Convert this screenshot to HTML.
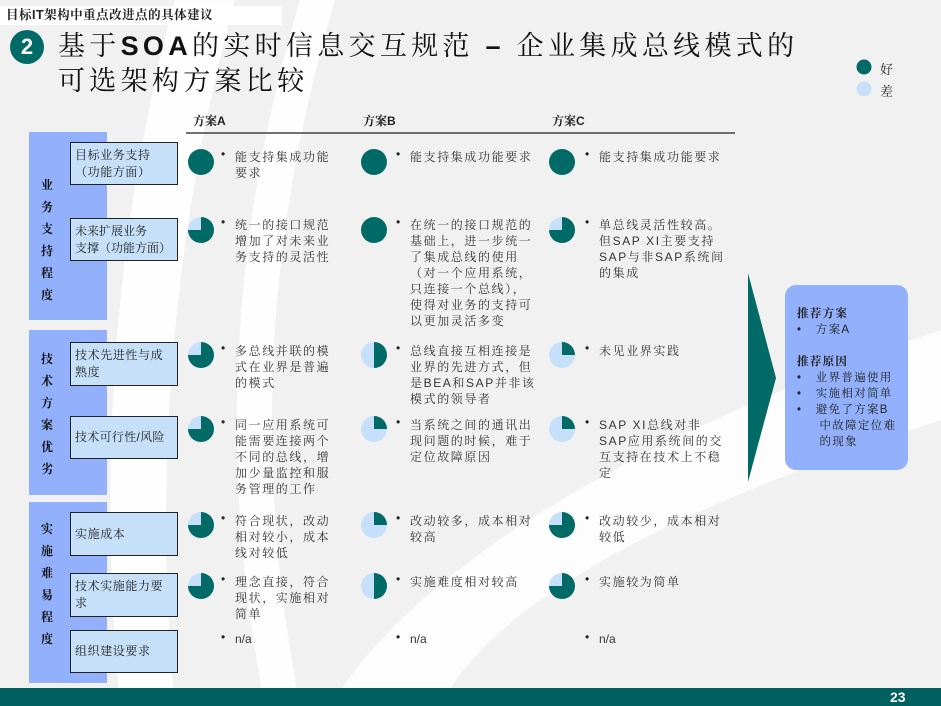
<!DOCTYPE html>
<html><head><meta charset="utf-8">
<style>
*{margin:0;padding:0;box-sizing:border-box}
body{width:941px;height:706px;position:relative;overflow:hidden;background:#f1f1f1;font-family:"Liberation Sans","Noto Serif CJK SC",serif;color:#222}
.a{position:absolute}
.t{font-size:12px;line-height:16px;letter-spacing:1.6px;color:#333;white-space:nowrap}
.bul{position:absolute;font-size:12px;line-height:16px}
.lab{position:absolute;left:70px;width:108px;background:#c6e0fa;border:1.5px solid #222;font-size:12px;line-height:17px;letter-spacing:0.6px;padding-left:4px;display:flex;align-items:center;color:#222;white-space:nowrap}
.cat{position:absolute;left:29px;width:78px;background:#93b0fc}
.ct{position:absolute;left:34px;width:26px;text-align:center;font-size:12px;font-weight:bold;line-height:22px;color:#111}
.hd{font-size:12px;font-weight:bold}
</style></head><body>
<svg class="a" style="left:0;top:0" width="941" height="706">
<path d="M175,0 L235,0 C180,200 150,450 175,706 L120,706 C95,450 120,200 175,0Z" fill="#fff" opacity="0.9"/>
<path d="M300,0 L335,0 C270,220 250,450 300,706 L265,706 C215,450 235,220 300,0Z" fill="#fff" opacity="0.9"/>
<path d="M330,706 C420,560 650,430 941,330 L941,420 C700,500 500,590 440,706Z" fill="#fff" opacity="0.85"/>
<g fill="#006a66">
<circle cx="27" cy="47" r="17"/>
<circle cx="864" cy="67" r="7.5"/>
</g>
<circle cx="864" cy="89" r="7.5" fill="#c6e0fa"/>
<line x1="186" y1="133" x2="735" y2="133" stroke="#444" stroke-width="1.5"/>
<polygon points="748,273 776,378 748,482" fill="#006a66"/>
<rect x="785" y="285" width="123" height="185" rx="11" fill="#93b0fc"/>
<rect x="0" y="688" width="941" height="18" fill="#006060"/>
</svg>
<div class="a" style="left:0;top:6px;width:282px;height:19px;background:#fff;font-size:12.5px;font-weight:bold;line-height:19px;padding-left:6px;letter-spacing:0.5px">目标IT架构中重点改进点的具体建议</div>
<div class="a" style="left:17px;top:33px;width:20px;text-align:center;color:#fff;font-weight:bold;font-size:22px;line-height:28px">2</div>
<div class="a" style="left:58px;top:29px;font-size:27px;line-height:35px;letter-spacing:4.3px;white-space:nowrap;color:#111">基于<b style="font-family:'Liberation Sans'">SOA</b>的实时信息交互规范 <b style="font-family:'Liberation Sans'">–</b> 企业集成总线模式的<br>可选架构方案比较</div>
<div class="a" style="left:880px;top:59px;font-size:13px;line-height:22px">好<br>差</div>
<div class="a hd" style="left:193px;top:112px">方案A</div>
<div class="a hd" style="left:363px;top:112px">方案B</div>
<div class="a hd" style="left:552px;top:112px">方案C</div>

<div class="cat" style="top:132px;height:188px"></div>
<div class="cat" style="top:330px;height:165px"></div>
<div class="cat" style="top:502px;height:181px"></div>
<div class="ct" style="top:174px">业<br>务<br>支<br>持<br>程<br>度</div>
<div class="ct" style="top:348px">技<br>术<br>方<br>案<br>优<br>劣</div>
<div class="ct" style="top:518px">实<br>施<br>难<br>易<br>程<br>度</div>

<div class="lab" style="top:142px;height:43px">目标业务支持<br>（功能方面）</div>
<div class="lab" style="top:218px;height:43px;letter-spacing:0">未来扩展业务<br>支撑（功能方面）</div>
<div class="lab" style="top:342px;height:44px">技术先进性与成<br>熟度</div>
<div class="lab" style="top:416px;height:43px;letter-spacing:0.3px">技术可行性/风险</div>
<div class="lab" style="top:512px;height:44px">实施成本</div>
<div class="lab" style="top:573px;height:44px">技术实施能力要<br>求</div>
<div class="lab" style="top:630px;height:43px">组织建设要求</div>

<div class="bul" style="left:221px;top:146px">•</div><div class="a t" style="left:235px;top:149px">能支持集成功能<br>要求</div>
<div class="bul" style="left:396px;top:146px">•</div><div class="a t" style="left:410px;top:149px">能支持集成功能要求</div>
<div class="bul" style="left:585px;top:146px">•</div><div class="a t" style="left:599px;top:149px">能支持集成功能要求</div>

<div class="bul" style="left:221px;top:214px">•</div><div class="a t" style="left:235px;top:217px">统一的接口规范<br>增加了对未来业<br>务支持的灵活性</div>
<div class="bul" style="left:396px;top:214px">•</div><div class="a t" style="left:410px;top:217px">在统一的接口规范的<br>基础上，进一步统一<br>了集成总线的使用<br>（对一个应用系统，<br>只连接一个总线），<br>使得对业务的支持可<br>以更加灵活多变</div>
<div class="bul" style="left:585px;top:214px">•</div><div class="a t" style="left:599px;top:217px">单总线灵活性较高。<br>但SAP XI主要支持<br>SAP与非SAP系统间<br>的集成</div>

<div class="bul" style="left:221px;top:340px">•</div><div class="a t" style="left:235px;top:343px">多总线并联的模<br>式在业界是普遍<br>的模式</div>
<div class="bul" style="left:396px;top:340px">•</div><div class="a t" style="left:410px;top:343px">总线直接互相连接是<br>业界的先进方式，但<br>是BEA和SAP并非该<br>模式的领导者</div>
<div class="bul" style="left:585px;top:340px">•</div><div class="a t" style="left:599px;top:343px">未见业界实践</div>

<div class="bul" style="left:221px;top:414px">•</div><div class="a t" style="left:235px;top:417px">同一应用系统可<br>能需要连接两个<br>不同的总线，增<br>加少量监控和服<br>务管理的工作</div>
<div class="bul" style="left:396px;top:414px">•</div><div class="a t" style="left:410px;top:417px">当系统之间的通讯出<br>现问题的时候，难于<br>定位故障原因</div>
<div class="bul" style="left:585px;top:414px">•</div><div class="a t" style="left:599px;top:417px">SAP XI总线对非<br>SAP应用系统间的交<br>互支持在技术上不稳<br>定</div>

<div class="bul" style="left:221px;top:510px">•</div><div class="a t" style="left:235px;top:513px">符合现状，改动<br>相对较小，成本<br>线对较低</div>
<div class="bul" style="left:396px;top:510px">•</div><div class="a t" style="left:410px;top:513px">改动较多，成本相对<br>较高</div>
<div class="bul" style="left:585px;top:510px">•</div><div class="a t" style="left:599px;top:513px">改动较少，成本相对<br>较低</div>

<div class="bul" style="left:221px;top:571px">•</div><div class="a t" style="left:235px;top:574px">理念直接，符合<br>现状，实施相对<br>简单</div>
<div class="bul" style="left:396px;top:571px">•</div><div class="a t" style="left:410px;top:574px">实施难度相对较高</div>
<div class="bul" style="left:585px;top:571px">•</div><div class="a t" style="left:599px;top:574px">实施较为简单</div>

<div class="bul" style="left:221px;top:629px">•</div><div class="a t" style="left:235px;top:631px;letter-spacing:0">n/a</div>
<div class="bul" style="left:396px;top:629px">•</div><div class="a t" style="left:410px;top:631px;letter-spacing:0">n/a</div>
<div class="bul" style="left:585px;top:629px">•</div><div class="a t" style="left:599px;top:631px;letter-spacing:0">n/a</div>

<div class="a" style="left:797px;top:306px;font-size:11.5px;line-height:16px;letter-spacing:1.3px;color:#222;white-space:nowrap">
<b>推荐方案</b><br>•&nbsp;&nbsp; 方案A<br><br><b>推荐原因</b><br>•&nbsp;&nbsp; 业界普遍使用<br>•&nbsp;&nbsp; 实施相对简单<br>•&nbsp;&nbsp; 避免了方案B<br>&nbsp;&nbsp;&nbsp;&nbsp; 中故障定位难<br>&nbsp;&nbsp;&nbsp;&nbsp; 的现象</div>
<div class="a" style="left:890px;top:688px;color:#fff;font-weight:bold;font-size:14px;line-height:18px">23</div>

<svg class="a" style="left:0;top:0" width="941" height="706">
<defs>
<g id="f"><circle r="13" fill="#006a66"/></g>
<g id="q3"><circle r="13" fill="#c6e0fa"/><path d="M0,0 L0,-13 A13,13 0 1 1 -13,0 Z" fill="#006a66"/></g>
<g id="h"><circle r="13" fill="#c6e0fa"/><path d="M0,-13 A13,13 0 0 1 0,13 Z" fill="#006a66"/></g>
<g id="q1"><circle r="13" fill="#c6e0fa"/><path d="M0,0 L0,-13 A13,13 0 0 1 13,0 Z" fill="#006a66"/></g>
</defs>
<use href="#f" x="201" y="162"/><use href="#f" x="374" y="162"/><use href="#f" x="562" y="162"/>
<use href="#q3" x="201" y="230"/><use href="#f" x="374" y="230"/><use href="#q3" x="562" y="230"/>
<use href="#q3" x="201" y="355"/><use href="#h" x="374" y="355"/><use href="#q1" x="562" y="355"/>
<use href="#q3" x="201" y="429"/><use href="#q1" x="374" y="429"/><use href="#q1" x="562" y="429"/>
<use href="#q3" x="201" y="525"/><use href="#q1" x="374" y="525"/><use href="#q3" x="562" y="525"/>
<use href="#q3" x="201" y="586"/><use href="#h" x="374" y="586"/><use href="#q3" x="562" y="586"/>
</svg>
</body></html>
